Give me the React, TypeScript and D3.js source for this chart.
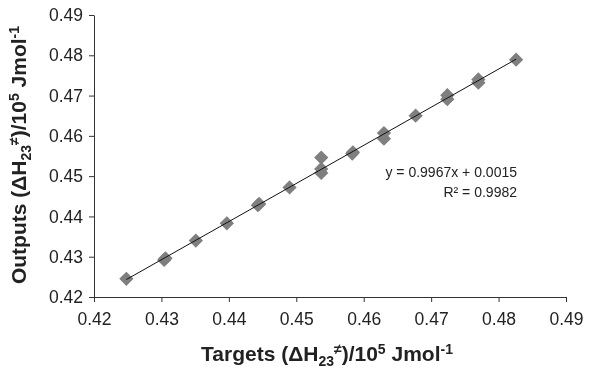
import { useEffect, useRef } from 'react'
import * as d3 from 'd3'

const targets = [
  0.4248, 0.4304, 0.4306, 0.4351, 0.4397, 0.4443, 0.4445, 0.449, 0.4537, 0.4537, 0.4537, 0.4583,
  0.4584, 0.463, 0.463, 0.4677, 0.4724, 0.4724, 0.477, 0.477, 0.4826,
]
const outputs = [
  0.4245, 0.4292, 0.4296, 0.434, 0.4383, 0.4428, 0.4431, 0.4472, 0.4546, 0.4518, 0.4508, 0.4556,
  0.4559, 0.4607, 0.4593, 0.465, 0.4701, 0.4691, 0.474, 0.4732, 0.4789,
]
const xTicks = [0.42, 0.43, 0.44, 0.45, 0.46, 0.47, 0.48, 0.49]
const yTicks = [0.42, 0.43, 0.44, 0.45, 0.46, 0.47, 0.48, 0.49]
const equation = 'y = 0.9967x + 0.0015'
const rSquared = 'R² = 0.9982'

const W = 612
const H = 368
const FONT = 'Liberation Sans, Arial, sans-serif'

export default function App() {
  const svgRef = useRef<SVGSVGElement>(null)

  useEffect(() => {
    if (!svgRef.current) return
    const svg = d3.select(svgRef.current)
    svg.selectAll('*').remove()

    const x = d3.scaleLinear([0.42, 0.49], [94, 566])
    const y = d3.scaleLinear([0.42, 0.49], [297, 15])

    // axes
    const xAxis = svg
      .append('g')
      .attr('transform', `translate(0,${y(0.42)})`)
      .call(d3.axisBottom(x).tickValues(xTicks).tickFormat(d3.format('.2f')).tickSize(5).tickSizeOuter(0))
    const yAxis = svg
      .append('g')
      .attr('transform', `translate(${x(0.42)},0)`)
      .call(d3.axisLeft(y).tickValues(yTicks).tickFormat(d3.format('.2f')).tickSize(5).tickSizeOuter(0))

    for (const g of [xAxis, yAxis]) {
      g.selectAll('path, line').attr('stroke', '#333').attr('stroke-width', 1)
      g.selectAll('text').attr('fill', '#222').attr('font-family', FONT).attr('font-size', 17.5)
    }
    xAxis.selectAll('text').attr('y', 10).attr('dy', '1.05em')
    yAxis.selectAll('text').attr('x', -11)

    // trendline (least squares through the points)
    const n = targets.length
    const mx = d3.mean(targets)!
    const my = d3.mean(outputs)!
    let sxy = 0
    let sxx = 0
    for (let i = 0; i < n; i++) {
      sxy += (targets[i] - mx) * (outputs[i] - my)
      sxx += (targets[i] - mx) ** 2
    }
    const slope = sxy / sxx
    const icpt = my - slope * mx
    const [x0, x1] = d3.extent(targets) as [number, number]

    // markers
    const diamond = d3.symbol(d3.symbolDiamond2, 130)
    svg
      .append('g')
      .selectAll('path')
      .data(targets.map((t, i) => [t, outputs[i]]))
      .join('path')
      .attr('d', diamond)
      .attr('transform', (d) => `translate(${x(d[0])},${y(d[1])})`)
      .attr('fill', '#7f7f7f')

    svg
      .append('line')
      .attr('x1', x(x0))
      .attr('y1', y(slope * x0 + icpt))
      .attr('x2', x(x1))
      .attr('y2', y(slope * x1 + icpt))
      .attr('stroke', '#111')
      .attr('stroke-width', 1)

    // equation
    svg
      .append('text')
      .attr('x', 517)
      .attr('y', 177)
      .attr('text-anchor', 'end')
      .attr('font-family', FONT)
      .attr('font-size', 14)
      .attr('fill', '#222')
      .text(equation)
    svg
      .append('text')
      .attr('x', 517)
      .attr('y', 197)
      .attr('text-anchor', 'end')
      .attr('font-family', FONT)
      .attr('font-size', 14)
      .attr('fill', '#222')
      .text(rSquared)
  }, [])

  const titleStyle = { fontFamily: FONT, fontSize: 21, fontWeight: 700, fill: '#222' }

  return (
    <div style={{ position: 'fixed', left: 0, top: 0 }}>
      <svg ref={svgRef} width={W} height={H} style={{ display: 'block' }} />
      <svg width={W} height={H} style={{ position: 'absolute', left: 0, top: 0 }}>
        <text x={327} y={361} textAnchor="middle" style={titleStyle}>
          Targets (ΔH<tspan fontSize={14} dy={5}>23</tspan>
          <tspan fontSize={14} dy={-12}>≠</tspan>
          <tspan dy={7}>)/10</tspan>
          <tspan fontSize={14} dy={-7}>5</tspan>
          <tspan dy={7}> Jmol</tspan>
          <tspan fontSize={14} dy={-7}>-1</tspan>
        </text>
        <text transform="translate(25.5,155) rotate(-90)" textAnchor="middle" style={titleStyle}>
          Outputs (ΔH<tspan fontSize={14} dy={5}>23</tspan>
          <tspan fontSize={14} dy={-12}>≠</tspan>
          <tspan dy={7}>)/10</tspan>
          <tspan fontSize={14} dy={-7}>5</tspan>
          <tspan dy={7}> Jmol</tspan>
          <tspan fontSize={14} dy={-7}>-1</tspan>
        </text>
      </svg>
    </div>
  )
}
